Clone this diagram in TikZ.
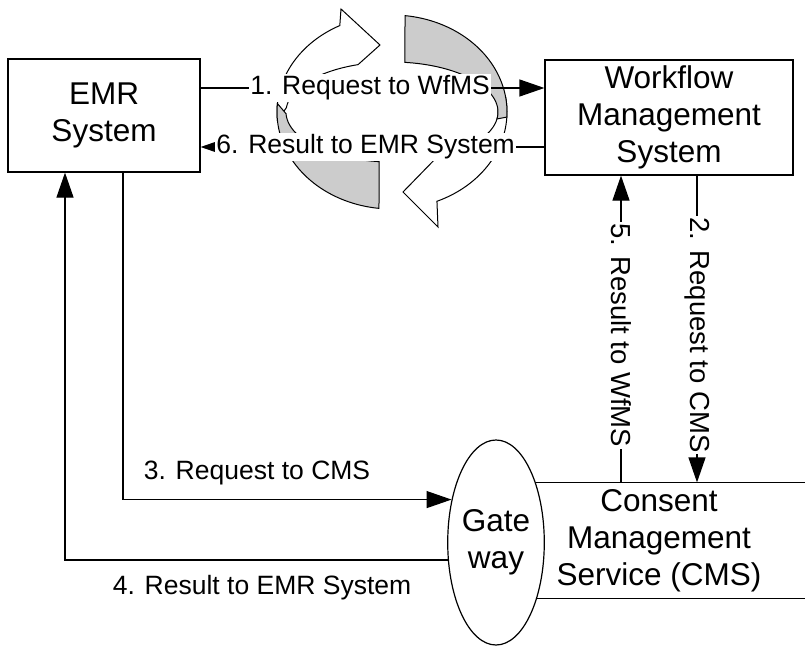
\documentclass[tikz,border=0pt]{standalone}
\usepackage{fontspec}
\setmainfont{Liberation Sans}
\usetikzlibrary{arrows.meta,shapes.geometric}
\begin{document}
\begin{tikzpicture}[x=1pt,y=-1pt,line width=1.2pt,
  box/.style={draw,rectangle,align=center,inner sep=0pt,font=\fontsize{31.5}{37}\selectfont},
  lbl/.style={font=\fontsize{26.5}{32}\selectfont,inner sep=1.5pt},
  lblv/.style={font=\fontsize{27.5}{32}\selectfont,inner sep=1.5pt,fill=white,rotate=-90},
  arr/.style={-{Triangle[length=25pt,width=17pt]}},
  ring/.style={line width=1pt,draw=black}]
\useasboundingbox (0,0) rectangle (805,647);
% circular arrows (pixel coords, y down)
\def\cx{392}\def\cy{112}
\def\ox{115}\def\oy{97}\def\ix{106}\def\iy{50}
% white top-left arrow
\filldraw[ring,fill=white]
  plot[domain=175:243,samples=40,variable=\t] ({\cx+\ox*cos(\t)},{\cy+\oy*sin(\t)})
  -- (341,9) -- (380,45)
  -- plot[domain=185:251.3,samples=40,variable=\t] ({\cx+\ix*cos(436.3-\t)},{\cy+\iy*sin(436.3-\t)})
  -- cycle;
% white bottom-right arrow
\filldraw[ring,fill=white]
  plot[domain=-8:67,samples=40,variable=\t] ({\cx+\ox*cos(\t)},{\cy+\oy*sin(\t)})
  -- (438,227) -- (403,192)
  -- plot[domain=-3:65,samples=40,variable=\t] ({\cx+\ix*cos(62-\t)},{\cy+\iy*sin(62-\t)})
  -- cycle;
% gray top-right piece
\filldraw[ring,fill=gray!40]
  plot[domain=-83.5:3,samples=40,variable=\t] ({\cx+\ox*cos(\t)},{\cy+\oy*sin(\t)})
  -- plot[domain=-83:8,samples=40,variable=\t] ({\cx+\ix*cos(-75-\t)},{\cy+\iy*sin(-75-\t)})
  -- cycle;
% gray bottom-left piece
\filldraw[ring,fill=gray!40]
  plot[domain=96.5:185,samples=40,variable=\t] ({\cx+\ox*cos(\t)},{\cy+\oy*sin(\t)})
  -- plot[domain=97:178,samples=40,variable=\t] ({\cx+\ix*cos(275-\t)},{\cy+\iy*sin(275-\t)})
  -- cycle;
% boxes
\node[box,minimum width=192pt,minimum height=113pt] (emr) at (104,115.5) {EMR\\System};
\node[box,minimum width=248pt,minimum height=115pt] (wf) at (669,117.5) {Workflow\\Management\\System};
\node[box,draw=none,minimum width=267pt,minimum height=115pt] (cms) at (659,540.5) {Consent\\Management\\Service (CMS)};
\draw (cms.north -| 500,0) -- (cms.north -| 805,0);
\draw (cms.south -| 500,0) -- (cms.south -| 805,0);
\node[draw,ellipse,fill=white,minimum width=94pt,minimum height=205pt,inner sep=0pt,align=center,
      font=\fontsize{31.5}{37}\selectfont] (gw) at (496,542.5) {Gate\\way};
% connectors
\draw[arr] (emr.east |- 0,88) -- (wf.west |- 0,88)
  node[lbl,fill=white,pos=0.493] {1. Request to WfMS};
\draw[arr] (wf.west |- 0,147) -- (emr.east |- 0,147)
  node[lbl,fill=white,pos=0.52] {6. Result to EMR System};
\draw[arr] (wf.south -| 697,0) -- (cms.north -| 697,0)
  node[lblv,pos=0.52] {2. Request to CMS};
\draw[arr] (cms.north -| 621,0) -- (wf.south -| 621,0)
  node[lblv,pos=0.48] {5. Result to WfMS};
\draw[arr] (emr.south -| 123,0) |- (gw.136.8);
\draw[arr] (gw.200.7) -| (emr.south -| 65,0);
\node[lbl] (l3) at (257,473) {3. Request to CMS};
\node[lbl] (l4) at (262,588) {4. Result to EMR System};
\end{tikzpicture}
\end{document}
